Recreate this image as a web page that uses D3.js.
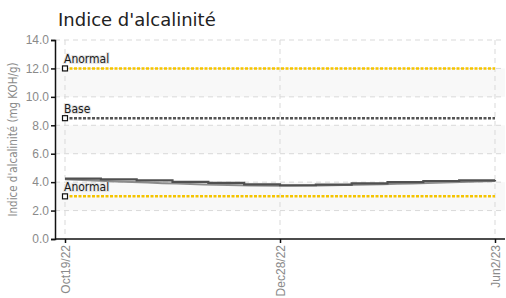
<!DOCTYPE html>
<html>
<head>
<meta charset="utf-8">
<script src="https://cdn.jsdelivr.net/npm/d3@7"></script>
<style>
  body { margin: 0; background: #fff; }
  svg { display: block; font-family: "DejaVu Sans Condensed", "DejaVu Sans", sans-serif; font-stretch: condensed; }
  .tick text { fill: #8a8a8a; font-size: 12px; }
</style>
</head>
<body>
<svg id="chart" width="506" height="298"></svg>
<script>
const tickDates = ['Oct19/22', 'Dec28/22', 'Jun2/23'];
// measured series, one value per sample (step line)
const sampleValues = [4.25, 4.2, 4.12, 4.02, 3.95, 3.85, 3.78, 3.82, 3.92, 4.0, 4.08, 4.12, 4.15];
// smoothed series through the three dated readings
const trendValues = [4.2, 3.75, 4.08];
const limitNames = ['Anormal', 'Base', 'Anormal'];
const limitValues = [12, 8.5, 3];
const limitColors = ['#f5c400', '#555555', '#f5c400'];
const yTicks = [0, 2, 4, 6, 8, 10, 12, 14];

const svg = d3.select('#chart');
const margin = { top: 40, right: 1, bottom: 59, left: 55 };
const W = 506, H = 298;
const x0 = 65, x1 = 495;

const y = d3.scaleLinear().domain([0, 14]).range([H - margin.bottom, margin.top]);
const xs = d3.scaleLinear().domain([0, sampleValues.length - 1]).range([x0, x1]);
const xt = d3.scalePoint().domain(tickDates).range([x0, x1]);

// title
svg.append('text')
  .attr('x', 58).attr('y', 26)
  .attr('font-family', '"DejaVu Sans", sans-serif')
  .style('font-stretch', 'normal')
  .attr('font-size', 18).attr('fill', '#222')
  .text("Indice d'alcalinité");

// alternating bands
svg.append('g').selectAll('rect')
  .data([2, 6, 10])
  .join('rect')
  .attr('x', margin.left).attr('width', W - margin.right - margin.left)
  .attr('y', d => y(d + 2)).attr('height', d => y(d) - y(d + 2))
  .attr('fill', '#f8f8f8');

// grid
const grid = svg.append('g').attr('stroke', '#d9d9d9').attr('stroke-dasharray', '5,4');
grid.selectAll('line.h').data(yTicks.slice(1)).join('line')
  .attr('x1', margin.left).attr('x2', W - margin.right)
  .attr('y1', d => y(d)).attr('y2', d => y(d));
grid.selectAll('line.v').data(tickDates).join('line')
  .attr('x1', d => xt(d)).attr('x2', d => xt(d))
  .attr('y1', margin.top).attr('y2', y(0));

// limit lines
const limits = svg.append('g');
limitValues.forEach((v, i) => {
  limits.append('line')
    .attr('x1', x0).attr('x2', x1)
    .attr('y1', y(v)).attr('y2', y(v))
    .attr('stroke', limitColors[i]).attr('stroke-width', 2.5)
    .attr('stroke-dasharray', '3,1.5');
});

// series
svg.append('path')
  .datum(trendValues)
  .attr('fill', 'none').attr('stroke', '#8c8c8c').attr('stroke-width', 2)
  .attr('d', d3.line().x((d, i) => xt(tickDates[i])).y(d => y(d)).curve(d3.curveMonotoneX));
svg.append('path')
  .datum(sampleValues)
  .attr('fill', 'none').attr('stroke', '#505050').attr('stroke-width', 2.2)
  .attr('d', d3.line().x((d, i) => xs(i)).y(d => y(d)).curve(d3.curveStepAfter));

// limit markers and labels
limitValues.forEach((v, i) => {
  limits.append('rect')
    .attr('x', x0 - 2.5).attr('y', y(v) - 2.5)
    .attr('width', 5).attr('height', 5)
    .attr('fill', '#fff').attr('stroke', '#111').attr('stroke-width', 1.2);
  limits.append('text')
    .attr('x', x0 - 1).attr('y', y(v) - 5)
    .attr('font-size', 12).attr('fill', '#1a1a1a')
    .attr('stroke', '#e6e6e6').attr('stroke-width', 2).attr('paint-order', 'stroke')
    .text(limitNames[i]);
});

// axes
svg.append('g')
  .attr('transform', `translate(${margin.left},0)`)
  .call(d3.axisLeft(y).tickValues(yTicks).tickFormat(d3.format('.1f')).tickSize(4).tickPadding(2))
  .call(g => g.selectAll('path, line').attr('stroke', '#111').attr('stroke-width', 1.5));

const xAxis = svg.append('g')
  .attr('transform', `translate(0,${y(0)})`)
  .call(d3.axisBottom(xt).tickSize(4).tickPadding(4));
xAxis.select('.domain').attr('d', `M${margin.left},0H${W - margin.right}`);
xAxis.selectAll('path, line').attr('stroke', '#111').attr('stroke-width', 1.5);
xAxis.selectAll('text')
  .attr('transform', 'rotate(-90)')
  .attr('text-anchor', 'end')
  .attr('x', -6).attr('y', 0).attr('dy', '0.35em');

// y title
svg.append('text')
  .attr('transform', `translate(17,${(y(0) + y(14)) / 2}) rotate(-90)`)
  .attr('text-anchor', 'middle')
  .attr('font-size', 11.5).attr('fill', '#8a8a8a')
  .text("Indice d'alcalinité (mg KOH/g)");
</script>
</body>
</html>
